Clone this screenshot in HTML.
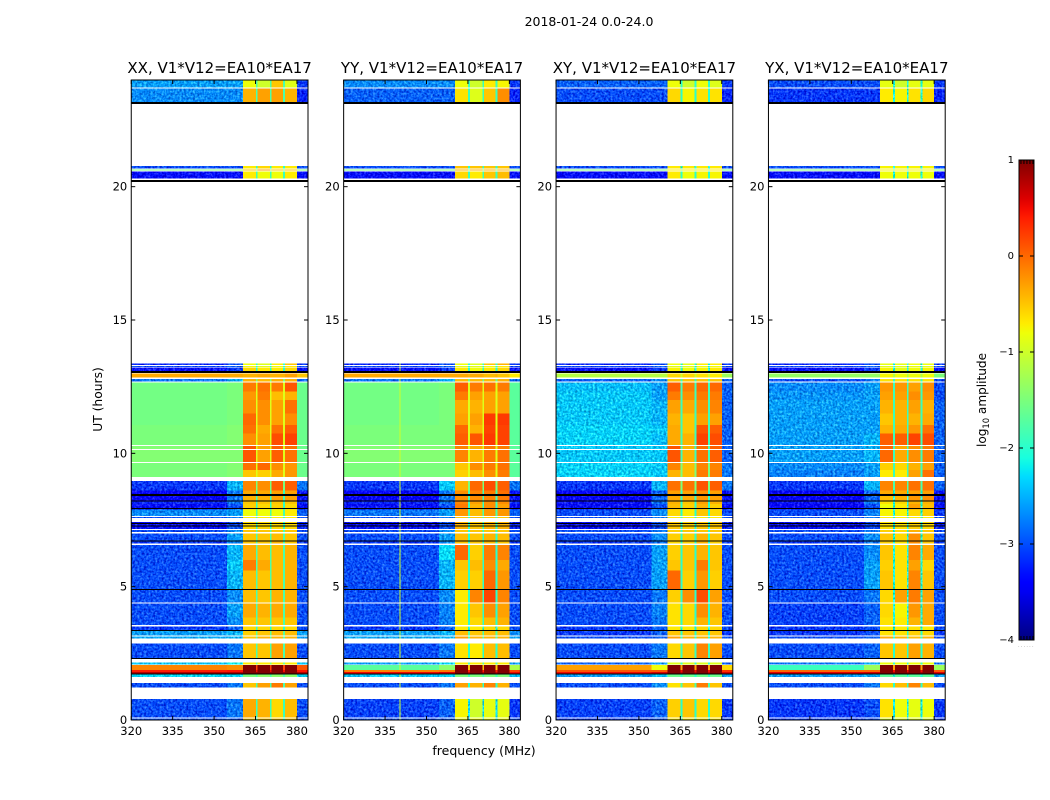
<!DOCTYPE html>
<html>
<head>
<meta charset="utf-8">
<title>2018-01-24 0.0-24.0</title>
<style>
html,body{margin:0;padding:0;background:#fff;}
svg{display:block;}
text{font-family:"DejaVu Sans","Liberation Sans",sans-serif;fill:#000;}
</style>
</head>
<body>
<svg id="chart" xmlns="http://www.w3.org/2000/svg" width="1050" height="800" viewBox="0 0 1050 800">
<defs>
<filter id="speckle" x="0" y="0" width="100%" height="100%" color-interpolation-filters="sRGB">
<feTurbulence type="fractalNoise" baseFrequency="0.45" numOctaves="2" seed="3" result="n"/>
<feColorMatrix in="n" type="matrix" values="1.6 0 0 0 -.3 1.6 0 0 0 -.3 1.6 0 0 0 -.3 0 0 0 0 1" result="g"/>
<feComposite in="SourceGraphic" in2="g" operator="arithmetic" k1="0" k2="1" k3=".5" k4="-.25" result="c"/>
<feComposite in="c" in2="SourceAlpha" operator="in"/>
</filter>
</defs>
<text x="589" y="26" text-anchor="middle" font-size="12.5">2018-01-24 0.0-24.0</text>
<text x="484" y="755" text-anchor="middle" font-size="12.5">frequency (MHz)</text>
<text x="0" y="0" transform="translate(102,399.5) rotate(-90)" text-anchor="middle" font-size="12.3">UT (hours)</text>
<text x="0" y="0" transform="translate(986,400) rotate(-90)" text-anchor="middle" font-size="12.1">log<tspan font-size="8.4" dy="3">10</tspan><tspan dy="-3"> amplitude</tspan></text>
<text x="1018" y="647" font-size="5" letter-spacing="1.2" style="fill:#888">......</text>
</svg>
<script>
// Axis domains
const freqMin = 320;
const freqMax = 384;
const hourMin = 0;
const hourMax = 24;
const ampMin = -4;
const ampMax = 1;

// Tick labels
const freqTicks = [320, 335, 350, 365, 380];
const hourTicks = [0, 5, 10, 15, 20];
const ampTicks = [1, 0, -1, -2, -3, -4];

// Frequency zones (MHz): low, trans, s1, gap, s2, gap, s3, gap, s4, high
const zoneEdges = [320, 354.6, 360.4, 365.1, 365.8, 370.2, 370.8, 375.0, 375.7, 380, 384];
const zoneColumns = [0, 1, 2, 6, 3, 6, 4, 6, 5, 7];

// Time rows (UT hours) holding data; anything else stays blank
const rowStart = [0,0.09,1.22,1.62,1.73,1.80,1.875,2.08,2.32,3.06,3.17,3.36,3.56,3.85,4.40,4.92,5.60,6.00,6.61,6.74,7.05,7.17,7.57,7.65,7.90,8.10,8.22,8.41,8.60,9.12,9.375,9.68,10.17,10.31,10.75,11.06,11.50,12.00,12.31,12.69,12.85,13.08,13.23,13.31,20.31,20.60,20.69,23.17,23.71];
const rowEnd = [0.05,0.78,1.38,1.71,1.80,1.875,2.06,2.15,2.875,3.13,3.34,3.50,3.85,4.36,4.88,5.60,6.00,6.57,6.72,7.00,7.13,7.43,7.61,7.90,8.10,8.22,8.41,8.60,8.97,9.375,9.64,10.13,10.27,10.75,11.06,11.50,12.00,12.31,12.66,12.78,13.00,13.21,13.28,13.375,20.56,20.65,20.77,23.68,24];

// Flagged black scans (UT hours), and thicker ones
const blackScans = [1.72,2.31,3.35,4.9,6.72,7.275,7.37,7.93,8.22,8.41,8.45];
const thickBlackScans = [13.05,20.22,23.14];

// log10 amplitude per row: low, trans, s1, s2, s3, s4, gap, high
const xxCells = [
[-3,-3,-.5,-.5,-.5,-.5,-2,-3],
[-3,-2.8,-.35,-.4,-.6,-.45,-1.9,-3],
[-3,-2.8,-.5,-.3,-.1,-.3,-1.8,-3],
[-2.3,-2.3,-1.5,-1.4,-1.4,-1.4,-1.8,-2.3],
[.75,.75,1,1,1,1,.9,.75],
[.4,.45,1,1,1,1,.5,.45],
[-.15,-.2,1,1,1,1,.2,.1],
[-2.4,-2.2,-.7,-.7,-.7,-.7,-1.5,-2.4],
[-3,-2.8,-.5,-.5,-.3,-.3,-1.8,-3],
[-2.55,-2.5,-.5,-.4,-.4,-.4,-1.7,-2.6],
[-2.6,-2.5,-.55,-.5,-.45,-.45,-1.7,-2.6],
[-3.1,-2.9,-.6,-.6,-.6,-.6,-2,-3],
[-3,-2.7,-.5,-.5,-.5,-.5,-1.8,-3],
[-3,-2.6,-.35,-.4,-.35,-.35,-1.8,-3],
[-3,-2.7,-.45,-.5,-.4,-.4,-1.8,-3],
[-3,-2.5,-.45,-.5,-.45,-.4,-1.8,-3],
[-3,-2.4,-.1,-.35,-.45,-.4,-1.8,-3],
[-3,-2.5,-.35,-.45,-.45,-.4,-1.8,-3],
[-3.1,-2.7,-.5,-.5,-.4,-.5,-1.8,-3.1],
[-3,-2.6,-.5,-.5,-.45,-.5,-1.8,-3],
[-3,-2.7,-.5,-.5,-.5,-.5,-1.8,-3],
[-3.3,-3,-.6,-.6,-.6,-.6,-2,-3.2],
[-3,-2.8,-.7,-.7,-.7,-.7,-2,-3],
[-2.7,-2.6,-.8,-.8,-.8,-.7,-1.8,-2.9],
[-3.3,-3,-.55,-.6,-.55,-.6,-2,-3.3],
[-3.2,-2.8,-.5,-.5,-.5,-.5,-1.9,-3.2],
[-3.4,-2.8,-.4,-.4,-.3,-.3,-1.9,-3.3],
[-3.4,-2.8,-.35,-.35,-.3,-.3,-1.9,-3.3],
[-3.1,-2.5,-.15,-.2,.05,.05,-1.5,-2.8],
[-1.5,-1.45,-.5,-.55,-.35,-.25,-.9,-1.6],
[-1.5,-1.45,-.05,0,-.2,-.25,-.9,-1.6],
[-1.45,-1.45,.1,-.3,.05,-.05,-.9,-1.6],
[-1.45,-1.45,.1,-.3,.05,-.05,-.9,-1.6],
[-1.5,-1.45,-.2,-.3,.15,.2,-.9,-1.6],
[-1.5,-1.45,-.05,-.35,-.05,.05,-.9,-1.6],
[-1.55,-1.5,0,-.2,-.3,-.2,-.9,-1.6],
[-1.55,-1.5,-.2,-.2,-.3,-.05,-.9,-1.6],
[-1.55,-1.5,-.25,-.1,-.45,-.4,-.9,-1.6],
[-1.55,-1.5,-.1,-.05,-.1,.1,-.9,-1.6],
[-2.8,-2.5,-.4,-.45,-.4,-.4,-1.5,-2.9],
[-.35,-.35,-.4,-.35,-.4,-.3,-.4,-.5],
[-3.3,-3.1,-.6,-.7,-.7,-.6,-2,-3.3],
[-3,-2.9,-.8,-.9,-.8,-.7,-2,-3],
[-3.2,-3,-.8,-.9,-.7,-.5,-2,-3.1],
[-3.3,-3.3,-.7,-.8,-.8,-.7,-1.9,-3.3],
[-1.5,-1.5,-.5,-.3,-.5,-.5,-1.4,-1.5],
[-3,-3,-.7,-.6,-.7,-.7,-2,-3],
[-2.7,-2.7,-.4,-.3,-.3,-.4,-1.8,-3.2],
[-2.6,-2.6,-.8,-1,-.5,-.9,-1.8,-3.1]
];
const yyCells = [
[-3,-3,-.8,-.8,-.8,-.8,-2.2,-3],
[-3.05,-2.9,-.75,-1,-.85,-.85,-2.3,-3.1],
[-3,-2.8,-.3,-.4,-.15,-.4,-2,-3],
[-2.4,-2.3,-1.5,-1.5,-1.5,-1.5,-1.9,-2.4],
[.5,.6,1,1,1,1,.7,.5],
[-.15,-.1,1,1,1,1,.4,.2],
[-1.7,-1.4,1,1,1,1,-.5,-1.2],
[-2.6,-2.3,-.7,-.7,-.7,-.7,-1.7,-2.6],
[-3,-2.8,-.65,-.7,-.45,-.45,-2,-3],
[-2.55,-2.5,-.3,-.4,-.4,-.4,-1.8,-2.6],
[-2.6,-2.5,-.45,-.5,-.45,-.45,-1.8,-2.7],
[-3.1,-2.9,-.7,-.7,-.6,-.6,-2.1,-3],
[-3,-2.75,-.7,-.6,-.45,-.4,-2,-3],
[-3,-2.75,-.7,-.5,-.2,-.3,-2,-3],
[-3,-2.7,-.7,-.15,.2,-.15,-2,-3],
[-3,-2.5,-.55,-.55,0,-.25,-2,-3],
[-3,-2.5,-.5,-.45,-.2,-.35,-2,-3],
[-3,-2.3,.0,-.55,-.1,-.15,-2,-3],
[-3.1,-2.7,-.5,-.5,-.45,-.5,-2,-3.1],
[-3,-2.6,-.45,-.5,-.4,-.45,-2,-3],
[-3,-2.7,-.5,-.5,-.5,-.5,-2,-3],
[-3.3,-3,-.4,-.5,-.4,-.4,-2,-3.2],
[-3,-2.8,-.5,-.5,-.5,-.5,-2,-3],
[-2.8,-2.6,-.25,-.45,-.25,-.25,-1.8,-2.9],
[-3.3,-3,-.1,-.4,-.2,-.3,-2,-3.3],
[-3.2,-2.8,-.15,-.3,-.2,-.2,-1.9,-3.2],
[-3.4,-2.8,-.2,-.2,-.15,-.1,-1.9,-3.3],
[-3.4,-2.8,-.2,-.15,-.1,-.05,-1.9,-3.3],
[-3.1,-2.4,-.4,0,.15,.05,-1.5,-2.8],
[-1.5,-1.5,-.55,-.45,-.2,-.1,-.9,-1.7],
[-1.5,-1.5,-.5,-.2,-.1,-.05,-.9,-1.7],
[-1.45,-1.45,-.15,-.4,-.1,-.05,-.9,-1.7],
[-1.45,-1.45,-.15,-.35,-.1,-.1,-.9,-1.7],
[-1.5,-1.5,.05,.1,.25,.2,-.9,-1.7],
[-1.5,-1.5,0,-.4,.2,.2,-.9,-1.7],
[-1.55,-1.5,-.3,-.3,.25,.25,-.9,-1.7],
[-1.55,-1.5,-.35,-.4,-.3,-.3,-.9,-1.7],
[-1.55,-1.5,-.1,-.3,-.3,-.3,-.9,-1.7],
[-1.55,-1.5,.05,-.1,-.05,-.1,-.9,-1.7],
[-2.8,-2.5,-.45,-.45,-.45,-.4,-1.6,-2.8],
[-.35,-.35,-.35,-.35,-.45,-.5,-.4,-.7],
[-3.3,-3.1,-.7,-.8,-.7,-.6,-2,-3.3],
[-3,-2.9,-.9,-.9,-.8,-.7,-2,-3],
[-3.2,-3,-.8,-.9,-.5,-.4,-2,-3.1],
[-3.3,-3.3,-.6,-.7,-.5,-.45,-1.9,-3.3],
[-1.5,-1.5,-.4,-.4,-.4,-.4,-1.4,-1.5],
[-3,-3,-.5,-.5,-.5,-.5,-2,-3],
[-2.9,-2.9,-.65,-.9,-.5,-.2,-1.9,-3.2],
[-2.7,-2.7,-.8,-1,-.7,-.75,-1.9,-3.1]
];
const xyCells = [
[-3.1,-3,-.7,-.7,-.7,-.7,-2.1,-3.1],
[-3.05,-2.9,-.55,-.5,-.6,-.6,-2,-3.1],
[-3,-2.7,-.65,-.5,-.1,-.5,-1.8,-3],
[-2.6,-2.4,-1.6,-1.6,-1.6,-1.6,-2,-2.6],
[.5,.6,1,1,1,1,.7,.6],
[.1,.1,1,1,1,1,.5,.3],
[-.3,-.8,1,1,1,1,-.3,-.6],
[-2.9,-2.6,-.9,-.9,-.9,-.9,-1.9,-2.9],
[-3,-2.8,-.6,-.5,-.15,-.3,-1.9,-3],
[-3,-2.9,-.3,-.4,-.4,-.4,-2,-3],
[-3.1,-2.9,-.5,-.5,-.5,-.5,-2,-3.1],
[-3.1,-2.9,-.7,-.7,-.6,-.6,-2.1,-3],
[-3,-2.8,-.65,-.6,-.4,-.5,-2,-3],
[-3,-2.75,-.65,-.6,-.2,-.4,-2,-3],
[-3,-2.8,-.55,-.2,.15,-.3,-2,-3],
[-3,-2.6,.0,-.55,-.25,-.55,-2,-3],
[-3,-2.6,-.5,-.5,-.1,-.5,-2,-3],
[-3,-2.6,-.55,-.5,-.4,-.5,-2,-3],
[-3.1,-2.8,-.6,-.55,-.4,-.55,-2,-3.1],
[-3,-2.7,-.55,-.55,-.4,-.5,-2,-3],
[-3,-2.8,-.55,-.5,-.5,-.5,-2,-3],
[-3.3,-3,-.5,-.55,-.5,-.5,-2.1,-3.2],
[-3,-2.8,-.7,-.7,-.7,-.7,-2,-3],
[-3,-2.7,-.6,-.7,-.5,-.6,-2,-3],
[-3.3,-3,-.45,-.55,-.4,-.55,-2,-3.3],
[-3.3,-2.8,-.4,-.5,-.3,-.4,-2,-3.2],
[-3.4,-2.9,-.35,-.35,-.25,-.3,-2,-3.3],
[-3.4,-2.9,-.3,-.3,-.2,-.3,-2,-3.3],
[-3.1,-2.5,-.05,-.05,.1,.05,-1.5,-2.8],
[-2.35,-2.4,-.4,-.45,-.1,-.1,-1.5,-2.8],
[-2.35,-2.4,-.15,-.45,-.15,-.15,-1.5,-2.8],
[-2.4,-2.4,.1,-.4,-.05,.05,-1.9,-2.9],
[-2.4,-2.4,.1,-.4,-.05,.05,-1.9,-2.9],
[-2.35,-2.45,-.35,-.4,.2,.15,-1.9,-2.9],
[-2.35,-2.4,-.35,-.5,.1,.05,-1.9,-2.9],
[-2.4,-2.5,-.4,-.5,-.3,-.3,-1.9,-2.9],
[-2.4,-2.5,-.3,-.35,-.2,-.15,-1.9,-2.9],
[-2.4,-2.6,-.1,-.2,-.1,-.1,-1.9,-2.9],
[-2.45,-2.6,.05,-.1,0,0,-1.9,-2.9],
[-2.9,-2.7,-.5,-.5,-.5,-.5,-1.9,-2.9],
[-1.15,-1.15,-.6,-.6,-.65,-.7,-1,-1.3],
[-3.3,-3.1,-.75,-.8,-.75,-.7,-2.1,-3.3],
[-3,-2.9,-.9,-.9,-.8,-.8,-2.1,-3],
[-3.2,-3,-.8,-.85,-.7,-.7,-2.1,-3.1],
[-3.3,-3.3,-.7,-.8,-.75,-.75,-2,-3.3],
[-1.5,-1.5,-.7,-.7,-.7,-.7,-1.4,-1.5],
[-3,-3,-.7,-.7,-.7,-.7,-2.1,-3],
[-3,-3,-.6,-.75,-.65,-.65,-2,-3.2],
[-2.9,-2.9,-.8,-1,-.8,-.9,-2,-3.1]
];
const yxCells = [
[-3.1,-3,-.9,-.9,-.9,-.9,-2.2,-3.1],
[-3.1,-3,-.65,-.8,-.85,-.8,-2.2,-3.1],
[-3,-2.8,-.6,-.45,-.15,-.45,-2,-3],
[-2.6,-2.5,-1.7,-1.7,-1.7,-1.7,-2.1,-2.6],
[.55,.6,1,1,1,1,.8,.55],
[0,0,1,1,1,1,.5,.1],
[-1.9,-1.3,1,1,1,1,-.3,-1.3],
[-2.8,-2.5,-.8,-.8,-.8,-.8,-1.9,-2.8],
[-3,-2.9,-.5,-.5,-.3,-.4,-2,-3],
[-3,-2.9,-.35,-.4,-.45,-.4,-2,-3],
[-3.1,-3,-.65,-.65,-.55,-.6,-2,-3.1],
[-3.1,-3,-.7,-.7,-.65,-.7,-2.1,-3],
[-3.05,-2.9,-.65,-.7,-.4,-.35,-2.1,-3],
[-3.05,-2.9,-.6,-.75,-.25,-.35,-2.1,-3],
[-3,-2.8,-.6,-.3,-.1,-.3,-2.1,-3],
[-3,-2.6,-.5,-.65,-.15,-.5,-2.1,-3],
[-3,-2.6,-.55,-.65,-.3,-.6,-2.1,-3],
[-3,-2.7,-.5,-.65,-.15,-.35,-2.1,-3],
[-3.1,-2.8,-.55,-.65,-.2,-.5,-2.1,-3.1],
[-3,-2.7,-.5,-.6,-.2,-.5,-2.1,-3],
[-3,-2.8,-.55,-.6,-.4,-.5,-2.1,-3],
[-3.3,-3.05,-.65,-.65,-.55,-.6,-2.2,-3.2],
[-3,-2.8,-.7,-.7,-.7,-.7,-2.1,-3],
[-3,-2.75,-.75,-.75,-.6,-.55,-2.1,-3.1],
[-3.4,-3,-.8,-.7,-.3,-.45,-2.1,-3.3],
[-3.3,-2.8,-.65,-.6,-.4,-.4,-2.1,-3.2],
[-3.4,-2.9,-.45,-.4,-.25,-.2,-2.1,-3.3],
[-3.4,-2.9,-.35,-.35,-.3,-.3,-2.1,-3.3],
[-3.1,-2.5,-.15,-.15,-.05,-.05,-1.8,-2.9],
[-2.75,-2.6,-.7,-.7,-.3,-.05,-1.9,-2.9],
[-2.7,-2.6,-.55,-.6,-.4,-.3,-1.9,-2.9],
[-2.6,-2.5,0,-.35,-.2,-.1,-1.9,-2.9],
[-2.6,-2.5,0,-.35,-.2,-.1,-1.9,-2.9],
[-2.6,-2.5,.05,.05,.2,.15,-1.9,-2.9],
[-2.6,-2.6,-.4,-.35,-.25,-.05,-1.9,-2.9],
[-2.6,-2.6,-.5,-.4,-.4,-.35,-1.9,-2.9],
[-2.6,-2.6,-.4,-.4,-.3,-.4,-1.9,-2.9],
[-2.65,-2.6,-.3,-.3,-.2,-.25,-1.9,-3],
[-2.7,-2.6,-.25,-.25,-.3,-.2,-1.9,-3],
[-3,-2.8,-.65,-.65,-.65,-.65,-2,-3],
[-1.35,-1.35,-.75,-.8,-.8,-.8,-1.2,-1.5],
[-3.3,-3.1,-.75,-.85,-.8,-.75,-2.2,-3.3],
[-3,-2.9,-.9,-.9,-.85,-.85,-2.2,-3],
[-3.2,-3,-.85,-.85,-.8,-.8,-2.2,-3.1],
[-3.3,-3.3,-.8,-.8,-.8,-.8,-2.1,-3.3],
[-1.5,-1.5,-.75,-.75,-.75,-.75,-1.4,-1.5],
[-3,-3,-.75,-.75,-.75,-.75,-2.2,-3],
[-3.1,-3.1,-.7,-.75,-.65,-.6,-2.1,-3.2],
[-3,-3,-.85,-1,-.85,-.85,-2.1,-3.1]
];

// Narrow interference channel seen only in YY, up to this UT hour
const yyRfiFreq = 340.2;
const yyRfiAmp = -1.0;
const yyRfiLastHour = 14;

// Cells below this amplitude are noise-dominated and drawn speckled
const speckleBelowAmp = -2;

// Panels
const panelTitles = ["XX, V1*V12=EA10*EA17","YY, V1*V12=EA10*EA17","XY, V1*V12=EA10*EA17","YX, V1*V12=EA10*EA17"];
const panelKeys = ["xx","yy","xy","yx"];
const panelCells = [xxCells, yyCells, xyCells, yxCells];

// Layout
const NS = "http://www.w3.org/2000/svg";
const svg = document.getElementById("chart");
const plotTop = 80, plotBottom = 720, panelWidth = 176.75, panelStep = 212.4, firstLeft = 131.25;
const barLeft = 1019, barRight = 1034, barTop = 160, barBottom = 640;

function panelLeft(p){ return firstLeft + p * panelStep; }
function xScale(p, f){ return panelLeft(p) + (f - freqMin) / (freqMax - freqMin) * panelWidth; }
function yScale(h){ return plotBottom - (h - hourMin) / (hourMax - hourMin) * (plotBottom - plotTop); }
function barScale(v){ return barBottom - (v - ampMin) / (ampMax - ampMin) * (barBottom - barTop); }

function ramp(t, pts){
  for (let i = 1; i < pts.length; i++) {
    if (t <= pts[i][0]) {
      const a = pts[i-1], b = pts[i];
      return a[1] + (t - a[0]) / (b[0] - a[0]) * (b[1] - a[1]);
    }
  }
  return pts[pts.length-1][1];
}
function jet(v){
  const t = Math.max(0, Math.min(1, (v - ampMin) / (ampMax - ampMin)));
  const r = ramp(t, [[0,0],[.35,0],[.66,1],[.89,1],[1,.5]]);
  const g = ramp(t, [[0,0],[.125,0],[.375,1],[.64,1],[.91,0],[1,0]]);
  const b = ramp(t, [[0,.5],[.11,1],[.34,1],[.65,0],[1,0]]);
  return "rgb(" + Math.round(r*255) + "," + Math.round(g*255) + "," + Math.round(b*255) + ")";
}
function make(tag, attrs, parent){
  const el = document.createElementNS(NS, tag);
  for (const k in attrs) el.setAttribute(k, attrs[k]);
  parent.appendChild(el);
  return el;
}
function minusLabel(v){ return v < 0 ? "\u2212" + Math.abs(v) : String(v); }

panelKeys.forEach(function(key, p){
  const cells = panelCells[p];
  const group = make("g", {}, svg);
  
  

  const heat = make("g", {"shape-rendering":"crispEdges"}, group);
  
  

  const heatNoisy = make("g", {"shape-rendering":"crispEdges", filter:"url(#speckle)"}, group);
  
  

  const overlay = make("g", {"shape-rendering":"crispEdges"}, group);
  
  

  rowStart.forEach(function(start, r){
    const y0 = yScale(rowEnd[r]), y1 = yScale(start);
    zoneColumns.forEach(function(col, z){
      const x0 = xScale(p, zoneEdges[z]), x1 = xScale(p, zoneEdges[z+1]);
      const amp = cells[r][col];
      const cell = make("rect", {x:x0, y:y0, width:x1-x0, height:Math.max(1,y1-y0), fill:jet(amp)}, amp < speckleBelowAmp ? heatNoisy : heat);
      
      
    });
    if (key === "yy" && cells[r][0] < -1 && start < yyRfiLastHour) {
      const rx = xScale(p, yyRfiFreq);
      const rfi = make("rect", {x:rx, y:y0, width:1, height:Math.max(1,y1-y0), fill:jet(yyRfiAmp)}, overlay);
      
      
    }
  });

  blackScans.forEach(function(h){
    const line = make("rect", {x:panelLeft(p), y:yScale(h)-0.5, width:panelWidth, height:1, fill:"#000"}, overlay);
    
    
  });
  thickBlackScans.forEach(function(h){
    const line = make("rect", {x:panelLeft(p), y:yScale(h)-1, width:panelWidth, height:2, fill:"#000"}, overlay);
    
    
  });

  const frame = make("rect", {x:panelLeft(p), y:plotTop, width:panelWidth, height:plotBottom-plotTop, fill:"none", stroke:"#000", "stroke-width":1}, group);
  
  

  freqTicks.forEach(function(f){
    const x = xScale(p, f);
    const t1 = make("line", {x1:x, x2:x, y1:plotBottom, y2:plotBottom-4, stroke:"#000", "stroke-width":1}, group);
    
    
    const t2 = make("line", {x1:x, x2:x, y1:plotTop, y2:plotTop+4, stroke:"#000", "stroke-width":1}, group);
    
    
    const lab = make("text", {x:x, y:735, "text-anchor":"middle", "font-size":11.5}, group);
    lab.textContent = f;
    
    
  });
  hourTicks.forEach(function(h){
    const y = yScale(h);
    const t1 = make("line", {x1:panelLeft(p), x2:panelLeft(p)+4, y1:y, y2:y, stroke:"#000", "stroke-width":1}, group);
    
    
    const t2 = make("line", {x1:panelLeft(p)+panelWidth, x2:panelLeft(p)+panelWidth-4, y1:y, y2:y, stroke:"#000", "stroke-width":1}, group);
    
    
    const lab = make("text", {x:panelLeft(p)-4, y:y+4, "text-anchor":"end", "font-size":11.5}, group);
    lab.textContent = h;
    
    
  });

  const title = make("text", {x:panelLeft(p)+panelWidth/2, y:73, "text-anchor":"middle", "font-size":15}, group);
  title.textContent = panelTitles[p];
  
  
});

// Colorbar
const defs = make("defs", {}, svg);
const grad = make("linearGradient", {id:"jetBar", x1:0, y1:1, x2:0, y2:0}, defs);
for (let i = 0; i <= 50; i++) {
  make("stop", {offset:(i/50), "stop-color":jet(ampMin + (ampMax-ampMin)*i/50)}, grad);
}
const barGroup = make("g", {}, svg);


const barRect = make("rect", {x:barLeft, y:barTop, width:barRight-barLeft, height:barBottom-barTop, fill:"url(#jetBar)", stroke:"#000", "stroke-width":1}, barGroup);


ampTicks.forEach(function(v){
  const y = barScale(v);
  const t1 = make("line", {x1:barLeft, x2:barLeft+4, y1:y, y2:y, stroke:"#000", "stroke-width":1}, barGroup);
  
  
  const t2 = make("line", {x1:barRight, x2:barRight-4, y1:y, y2:y, stroke:"#000", "stroke-width":1}, barGroup);
  
  
  const lab = make("text", {x:barLeft-5, y:y+3, "text-anchor":"end", "font-size":10}, barGroup);
  lab.textContent = minusLabel(v);
  
  
});
const barMinorFractions = [0.13, 0.33, 0.53, 0.73, 0.93];
barMinorFractions.forEach(function(fr){
  const x = barLeft + fr * (barRight - barLeft);
  const t1 = make("line", {x1:x, x2:x, y1:barTop, y2:barTop+4, stroke:"#000", "stroke-width":1}, barGroup);
  
  
  const t2 = make("line", {x1:x, x2:x, y1:barBottom, y2:barBottom-4, stroke:"#000", "stroke-width":1}, barGroup);
  
  
});
</script>
</body>
</html>
